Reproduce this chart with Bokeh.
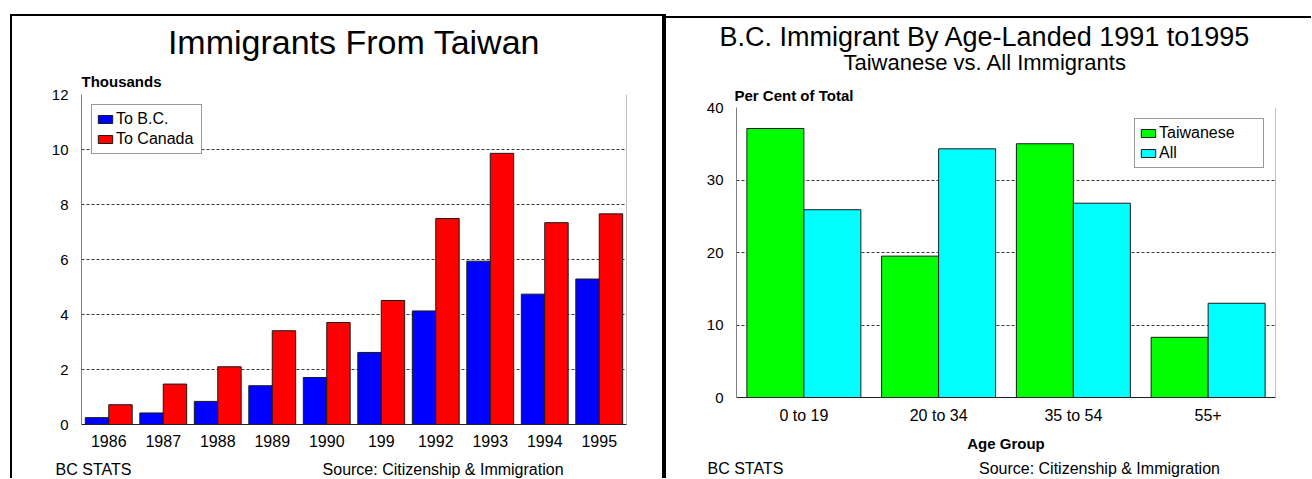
from bokeh.plotting import figure
from bokeh.models import (ColumnDataSource, FactorRange, Range1d, FixedTicker,
                          Legend, LegendItem, Span, Title)
from bokeh.transform import dodge
from bokeh.embed import file_html
from bokeh.resources import INLINE

FONT = "Liberation Sans"
NB = "\u00a0"

# ---------------- data ----------------
years = ["1986", "1987", "1988", "1989", "1990", "199", "1992", "1993", "1994", "1995"]
to_bc = [0.25, 0.42, 0.84, 1.41, 1.71, 2.62, 4.13, 5.94, 4.74, 5.29]
to_canada = [0.72, 1.47, 2.10, 3.41, 3.71, 4.51, 7.49, 9.86, 7.34, 7.66]
y1_ticks = [0, 2, 4, 6, 8, 10, 12]

age_groups = ["0 to 19", "20 to 34", "35 to 54", "55+"]
taiwanese = [37.1, 19.5, 35.0, 8.3]
all_immigrants = [25.9, 34.3, 26.8, 13.0]
y2_ticks = [0, 10, 20, 30, 40]


def base_style(p, ticks, x_standoff):
    p.outline_line_color = None
    p.xgrid.grid_line_color = None
    p.ygrid.ticker = FixedTicker(ticks=ticks)
    p.ygrid.grid_line_color = "#3a3a3a"
    p.ygrid.grid_line_dash = "3 2"
    p.ygrid.grid_line_width = 1
    p.yaxis.ticker = FixedTicker(ticks=ticks)
    for ax in (p.xaxis[0], p.yaxis[0]):
        ax.major_tick_line_color = None
        ax.minor_tick_line_color = None
        ax.major_tick_out = 0
        ax.major_tick_in = 0
        ax.major_label_text_font = FONT
        ax.major_label_text_color = "black"
    p.yaxis.axis_line_color = "#808080"
    p.xaxis.axis_line_color = "#202020"
    p.yaxis.major_label_text_font_size = "15px"
    p.xaxis.major_label_text_font_size = "16px"
    p.yaxis.major_label_standoff = 13
    p.xaxis.major_label_standoff = x_standoff


def style_title(t, text, size, offset, standoff, bold=False, align="left"):
    t.text = text
    t.text_font = FONT
    t.text_font_size = size
    t.text_font_style = "bold" if bold else "normal"
    t.text_color = "black"
    t.align = align
    t.offset = offset
    t.standoff = standoff
    t.vertical_align = "bottom"


def add_title(p, side, text, size, offset, standoff, bold=False, align="left"):
    t = Title()
    style_title(t, text, size, offset, standoff, bold, align)
    p.add_layout(t, side)


def make_legend(items, location, margin, label_width):
    return Legend(items=items, location=location, margin=margin, padding=4, spacing=0,
                  glyph_width=18, glyph_height=10, label_height=20,
                  label_width=label_width, label_standoff=2,
                  label_text_font=FONT, label_text_font_size="16px",
                  label_text_color="black",
                  border_line_color="#333333", border_line_width=1,
                  background_fill_color="white", background_fill_alpha=1)


# ---------------- left chart ----------------
W1, H1 = 650, 462
p1 = figure(x_range=FactorRange(*years), y_range=Range1d(0, 12), title="x",
            width=W1, height=H1, output_backend="svg", toolbar_location=None,
            min_border_left=69, min_border_right=42, min_border_top=78,
            min_border_bottom=56, background_fill_color="white",
            border_fill_color="white")
p1.styles = {"position": "absolute", "left": "10px", "top": "14px",
             "box-sizing": "content-box",
             "border-left": "2px solid black", "border-top": "2px solid black",
             "border-right": "4px solid black"}
base_style(p1, y1_ticks, 10)
p1.x_range.range_padding = 0
# footer line of the left chart, drawn as the x-axis label (centred, padded)
p1.xaxis.axis_label = "BC STATS" + NB * 43 + "Source: Citizenship & Immigration" + NB * 20
p1.xaxis.axis_label_standoff = 11
p1.xaxis.axis_label_text_font = FONT
p1.xaxis.axis_label_text_font_size = "16px"
p1.xaxis.axis_label_text_font_style = "normal"
p1.xaxis.axis_label_text_color = "black"

src1 = ColumnDataSource(dict(year=years, bc=to_bc, canada=to_canada))
r_bc = p1.vbar(x=dodge("year", -0.215, range=p1.x_range), top="bc", width=0.43,
               source=src1, fill_color="#0000FF", line_color="#1a1a1a", line_width=1)
r_ca = p1.vbar(x=dodge("year", 0.215, range=p1.x_range), top="canada", width=0.43,
               source=src1, fill_color="#FF0000", line_color="#1a1a1a", line_width=1)
p1.add_layout(Span(location=len(years), dimension="height", line_color="#808080", line_width=1))

p1.add_layout(make_legend([LegendItem(label="To B.C.", renderers=[r_bc]),
                           LegendItem(label="To Canada", renderers=[r_ca])],
                          "top_left", 10, 81))

# p.title is the outermost panel; added titles stack outward from the frame
style_title(p1.title, "Immigrants From Taiwan", "34px", 0, 9, align="center")
add_title(p1, "above", "Thousands", "15px", 0, 10, bold=True)

# ---------------- right chart ----------------
W2, H2 = 645, 460
p2 = figure(x_range=FactorRange(*age_groups), y_range=Range1d(0, 40), title="x",
            width=W2, height=H2, output_backend="svg", toolbar_location=None,
            min_border_left=70, min_border_right=36, min_border_top=89,
            min_border_bottom=83, background_fill_color="white",
            border_fill_color="white")
p2.styles = {"position": "absolute", "left": "666px", "top": "16px",
             "box-sizing": "content-box", "border-top": "2px solid black"}
base_style(p2, y2_ticks, 9)
p2.x_range.range_padding = 0
p2.xaxis.axis_label = "Age Group"
p2.xaxis.axis_label_text_font = FONT
p2.xaxis.axis_label_text_font_size = "15px"
p2.xaxis.axis_label_text_font_style = "bold"
p2.xaxis.axis_label_text_color = "black"
p2.xaxis.axis_label_standoff = 8

src2 = ColumnDataSource(dict(age=age_groups, tw=taiwanese, allimm=all_immigrants))
r_tw = p2.vbar(x=dodge("age", -0.2115, range=p2.x_range), top="tw", width=0.423,
               source=src2, fill_color="#00FF00", line_color="#1a1a1a", line_width=1)
r_all = p2.vbar(x=dodge("age", 0.2115, range=p2.x_range), top="allimm", width=0.423,
                source=src2, fill_color="#00FFFF", line_color="#1a1a1a", line_width=1)
p2.add_layout(Span(location=len(age_groups), dimension="height", line_color="#808080", line_width=1))

p2.add_layout(make_legend([LegendItem(label="Taiwanese", renderers=[r_tw]),
                           LegendItem(label="All", renderers=[r_all])],
                          "top_right", 11, 100))

style_title(p2.title, "B.C. Immigrant By Age-Landed 1991 to1995", "27px", -17, -20)
add_title(p2, "above", "Per Cent of Total", "15px", -2, 8, bold=True)
add_title(p2, "above", "Taiwanese vs. All Immigrants", "22px", 107, 12)
add_title(p2, "below", "BC STATS" + NB * 44 + "Source: Citizenship & Immigration",
          "16px", -29, 7)

open("out.html", "w").write(file_html([p1, p2], INLINE))
